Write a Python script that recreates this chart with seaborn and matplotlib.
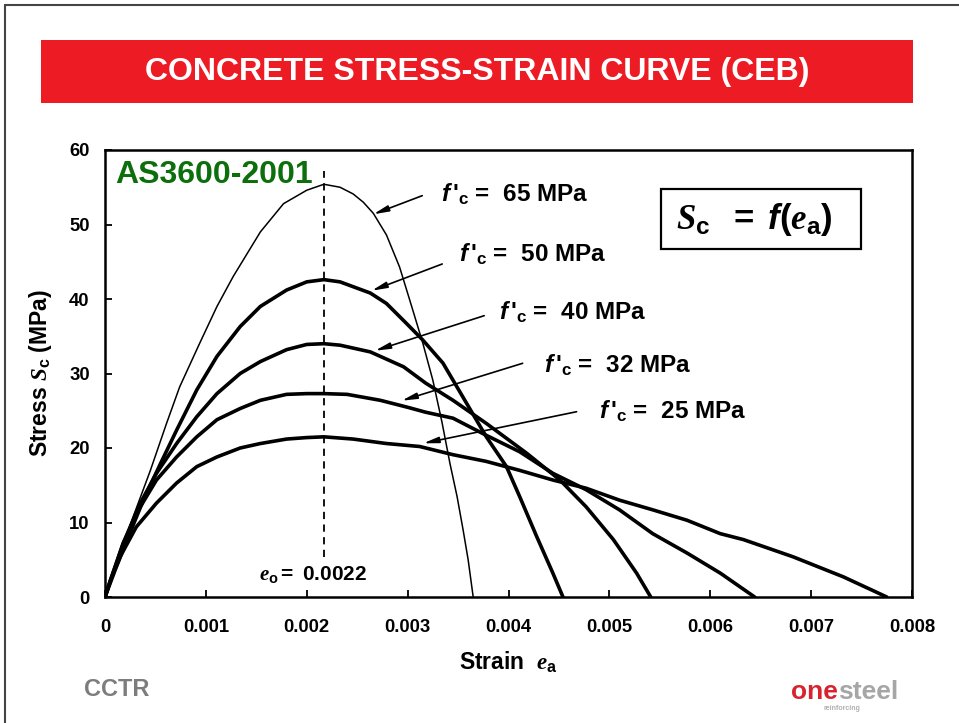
import numpy as np
import pandas as pd
import matplotlib
matplotlib.use("Agg")
import matplotlib.pyplot as plt
from matplotlib.patches import Rectangle
from matplotlib.lines import Line2D
import seaborn as sns

sns.set_style("ticks")
plt.rcParams['font.family'] = ['Liberation Sans', 'DejaVu Sans']
plt.rcParams['font.weight'] = 'bold'
plt.rcParams['text.color'] = 'black'
plt.rcParams['axes.labelcolor'] = 'black'
plt.rcParams['mathtext.fontset'] = 'custom'
plt.rcParams['mathtext.rm'] = 'Liberation Sans:bold'
plt.rcParams['mathtext.bf'] = 'Liberation Sans:bold'
plt.rcParams['mathtext.it'] = 'Liberation Serif:italic'
plt.rcParams['mathtext.bfit'] = 'Liberation Sans:italic:bold'

# curves (strain, stress in MPa)
strain_65 = [0, 0.00010, 0.00028, 0.00045, 0.00061, 0.00074, 0.00094, 0.00111, 0.00127, 0.00154,
             0.00177, 0.00200, 0.00217, 0.00233, 0.00246, 0.00256, 0.00266, 0.00279, 0.00292, 0.00302,
             0.00315, 0.00325, 0.00334, 0.00342, 0.00349, 0.00355, 0.00360, 0.00365]
stress_65 = [0, 4.0, 10.8, 17.0, 23.3, 28.2, 34.1, 39.0, 43.0, 49.0,
             52.8, 54.6, 55.4, 55.0, 54.1, 53.0, 51.5, 48.6, 44.3, 39.9,
             34.1, 29.1, 23.5, 17.9, 13.5, 9.0, 5.0, 0]

strain_50 = [0, 0.00010, 0.00022, 0.00038, 0.00055, 0.00071, 0.00091, 0.00111, 0.00134, 0.00154,
             0.00180, 0.00200, 0.00217, 0.00233, 0.00263, 0.00279, 0.00299, 0.00315, 0.00335, 0.00345,
             0.00378, 0.00398, 0.00411, 0.00428, 0.00444, 0.00454]
stress_50 = [0, 3.6, 7.7, 13.0, 17.9, 22.4, 27.8, 32.3, 36.3, 39.0,
             41.2, 42.3, 42.6, 42.3, 40.8, 39.4, 36.7, 34.5, 31.4, 29.1,
             21.5, 17.5, 13.5, 8.1, 3.2, 0]

strain_40 = [0, 0.00008, 0.00018, 0.00035, 0.00051, 0.00071, 0.00091, 0.00111, 0.00134, 0.00154,
             0.00180, 0.00200, 0.00217, 0.00233, 0.00263, 0.00296, 0.00318, 0.00345, 0.00378, 0.00418,
             0.00451, 0.00477, 0.00504, 0.00527, 0.00541]
stress_40 = [0, 3.3, 7.2, 12.6, 16.6, 20.6, 24.2, 27.3, 30.0, 31.6,
             33.2, 33.9, 34.0, 33.8, 32.9, 30.9, 28.7, 26.4, 23.3, 19.3,
             15.7, 12.1, 7.7, 3.2, 0]

strain_32 = [0, 0.00008, 0.00018, 0.00035, 0.00051, 0.00071, 0.00091, 0.00111, 0.00134, 0.00154,
             0.00180, 0.00200, 0.00217, 0.00240, 0.00273, 0.00299, 0.00318, 0.00345, 0.00378, 0.00411,
             0.00444, 0.00477, 0.00510, 0.00543, 0.00577, 0.00610, 0.00644]
stress_32 = [0, 3.2, 7.2, 12.1, 15.7, 18.8, 21.5, 23.8, 25.3, 26.4,
             27.2, 27.3, 27.3, 27.2, 26.4, 25.5, 24.8, 24.0, 21.7, 19.5,
             16.6, 14.4, 11.7, 8.5, 5.9, 3.2, 0]

strain_25 = [0, 0.00006, 0.00015, 0.00031, 0.00051, 0.00071, 0.00091, 0.00111, 0.00134, 0.00154,
             0.00180, 0.00200, 0.00217, 0.00246, 0.00279, 0.00312, 0.00345, 0.00378, 0.00411, 0.00444,
             0.00477, 0.00510, 0.00543, 0.00577, 0.00610, 0.00633, 0.00682, 0.00732, 0.00775]
stress_25 = [0, 2.5, 5.4, 9.4, 12.6, 15.3, 17.5, 18.8, 20.0, 20.6,
             21.2, 21.4, 21.5, 21.2, 20.6, 20.2, 19.1, 18.2, 17.0, 15.7,
             14.6, 13.0, 11.7, 10.3, 8.5, 7.7, 5.4, 2.7, 0]

grades = [65, 50, 40, 32, 25]
x_ticks = [0, 0.001, 0.002, 0.003, 0.004, 0.005, 0.006, 0.007, 0.008]
x_tick_labels = ['0', '0.001', '0.002', '0.003', '0.004', '0.005', '0.006', '0.007', '0.008']
y_ticks = [0, 10, 20, 30, 40, 50, 60]

curves = pd.concat([
    pd.DataFrame({'strain': s, 'stress': f, 'grade': g})
    for g, s, f in [(65, strain_65, stress_65), (50, strain_50, stress_50), (40, strain_40, stress_40),
                    (32, strain_32, stress_32), (25, strain_25, stress_25)]
], ignore_index=True)

W, H = 959, 723
fig = plt.figure(figsize=(W / 100, H / 100), dpi=100)
ax = fig.add_axes([105 / W, 126 / H, 807 / W, 447 / H])

sns.lineplot(data=curves, x='strain', y='stress', hue='grade', palette={g: 'black' for g in grades},
             size='grade', sizes={65: 1.1, 50: 2.6, 40: 2.6, 32: 2.6, 25: 2.6},
             estimator=None, sort=False, legend=False, ax=ax)

ax.plot([0.00217, 0.00217], [5.4, 57.2], color='black', lw=1.3, ls=(0, (4, 3)))

ax.set_xlim(0, 0.008)
ax.set_ylim(0, 60)
ax.set_xticks(x_ticks)
ax.set_xticklabels(x_tick_labels)
ax.set_yticks(y_ticks)
ax.tick_params(direction='in', length=5, width=1.3, labelsize=13.3, colors='black')
ax.tick_params(axis='x', pad=16)
ax.tick_params(axis='y', pad=11)
for sp in ax.spines.values():
    sp.set_linewidth(1.8)
    sp.set_color('black')

ax.set_xlabel(r"Strain  $e_{\mathbf{a}}$", fontsize=16.5, fontweight='bold')
ax.set_ylabel(r"Stress $S_{\mathrm{c}}$ (MPa)", fontsize=16.5, fontweight='bold')
ax.xaxis.set_label_coords(0.5, -0.118)
ax.yaxis.set_label_coords(-0.063, 0.5)

# grade labels with arrows
label_pos = {65: (0.00333, 53.0), 50: (0.003513, 45.0), 40: (0.00391, 37.2),
             32: (0.004355, 30.1), 25: (0.0049, 23.9)}
arrow_tail = {65: (0.003145, 53.87), 50: (0.003343, 44.7), 40: (0.003759, 37.76),
              32: (0.00414, 31.37), 25: (0.004675, 24.87)}
arrow_head = {65: (0.002659, 51.37), 50: (0.002643, 41.11), 40: (0.002676, 33.06),
              32: (0.00294, 26.35), 25: (0.003155, 20.63)}
for g in grades:
    ax.text(*label_pos[g], r"$\mathbfit{f}\,$" + "'" + r"$_{\mathbf{c}}$ =  " + f"{g} MPa",
            fontsize=17.5, fontweight='bold', ha='left', va='baseline')
    ax.annotate('', xy=arrow_head[g], xytext=arrow_tail[g],
                arrowprops=dict(arrowstyle='-|>,head_length=0.9,head_width=0.18',
                                color='black', lw=1.2, shrinkA=0, shrinkB=0))

ax.text(0.0001, 55.6, 'AS3600-2001', color='#0c6f0c', fontsize=23, fontweight='bold',
        ha='left', va='baseline')
ax.text(0.00153, 2.3, r"$e_{\mathbf{o}}\mathbf{=}$" + " 0.0022", fontsize=15, fontweight='bold',
        ha='left', va='baseline')

# formula box
fig.add_artist(Rectangle((661 / W, 1 - 249 / H), 200 / W, 60 / H, transform=fig.transFigure,
                         fill=False, lw=1.6, ec='black'))
fig.text(754 / W, 1 - 219 / H,
         r"$S_{\mathbf{c}}\ \ \mathbf{=}\ \mathbfit{f}\mathbf{(}e_{\mathbf{a}}\mathbf{)}$",
         fontsize=25, ha='center', va='center')

# title banner
fig.add_artist(Rectangle((41 / W, 1 - 103 / H), 872 / W, 63 / H, transform=fig.transFigure,
                         color='#ed1c24', lw=0))
fig.text(477 / W, 1 - 72 / H, 'CONCRETE STRESS-STRAIN CURVE (CEB)', color='white',
         fontsize=23, fontweight='bold', ha='center', va='center')

# slide frame
fig.add_artist(Line2D([5 / W, 1], [1 - 5 / H, 1 - 5 / H], transform=fig.transFigure, color='#444444', lw=1.5))
fig.add_artist(Line2D([5 / W, 5 / W], [0, 1 - 5 / H], transform=fig.transFigure, color='#444444', lw=1.5))

# logos
fig.text(117 / W, 1 - 690 / H, 'CCTR', color='#7d7d7d', fontsize=17, fontweight='bold',
         ha='center', va='center', family=['Liberation Sans Narrow', 'Liberation Sans'])
fig.text(838 / W, 1 - 699 / H, 'one', color='#d8232f', fontsize=19, fontweight='bold',
         ha='right', va='baseline', family=['Liberation Sans Narrow', 'Liberation Sans'])
fig.text(838 / W, 1 - 699 / H, 'steel', color='#a6a6a6', fontsize=19, fontweight='bold',
         ha='left', va='baseline', family=['Liberation Sans Narrow', 'Liberation Sans'])
fig.text(842 / W, 1 - 708 / H, 'reinforcing', color='#b0b0b0', fontsize=5,
         ha='center', va='center')

fig.savefig('out.png', dpi=100, facecolor='white')
